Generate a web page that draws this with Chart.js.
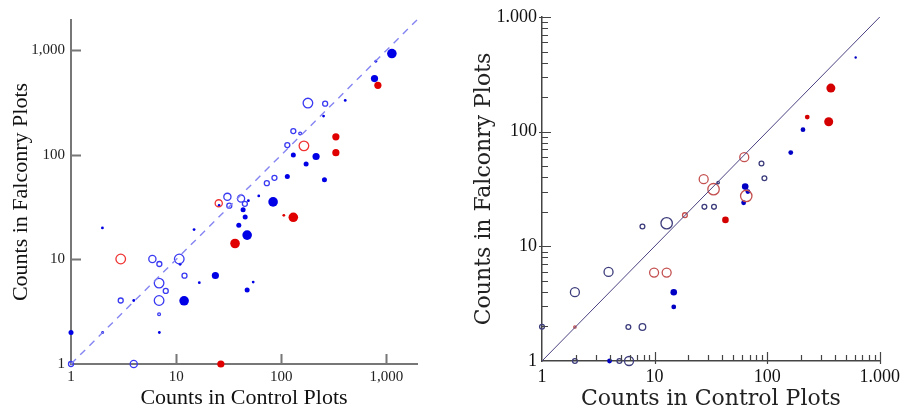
<!DOCTYPE html>
<html>
<head>
<meta charset="utf-8">
<script src="https://cdn.jsdelivr.net/npm/chart.js@4.4.1/dist/chart.umd.min.js"></script>
<style>
  html, body { margin: 0; padding: 0; background: #fff; }
  body { width: 905px; height: 407px; position: relative; overflow: hidden; }
  .panel { position: absolute; top: 0; }
</style>
</head>
<body>
<div class="panel" style="left:0;width:430px;height:407px"><canvas id="left" width="430" height="407"></canvas></div>
<div class="panel" style="left:440px;width:465px;height:407px"><canvas id="right" width="465" height="407"></canvas></div>
<script>
// points are [control count, falconry count, size class]
const leftBlueFilled = [
  [1125, 931, 4], [792, 786, 1], [769, 537, 3], [405, 332, 1], [252, 235, 1],
  [130, 100, 2], [214, 96.5, 3], [172, 82, 2], [114, 62, 2], [257, 57.7, 2],
  [83.5, 35.5, 4], [61, 40.5, 1], [25.6, 32.8, 1], [48.6, 36.5, 1], [43.3, 29.8, 2],
  [45.3, 25.5, 2], [39.4, 21.2, 2], [47.3, 17.1, 4], [23.6, 7.02, 3], [54, 6.07, 1],
  [47.3, 5.09, 2], [11.9, 4.02, 4], [1.99, 20, 1], [14.8, 19.3, 1], [16.6, 6.0, 1],
  [3.95, 4.05, 1], [6.92, 2.0, 1], [2, 2, 1], [1, 2, 2], [10.9, 9.0, 1]
];
const leftBlueOpen = [
  [179, 313, 4], [261, 309, 2], [130, 169, 2], [151, 160, 1], [114, 124, 2],
  [72.8, 53.6, 2], [86, 60.3, 2], [30.7, 39.7, 3], [41.4, 38.2, 3], [32, 32.7, 2],
  [45, 34, 2], [5.94, 10.1, 3], [6.92, 9.04, 2], [10.7, 10.1, 4], [12, 7.0, 2],
  [6.88, 5.94, 4], [7.96, 5.0, 2], [6.88, 4.05, 4], [2.97, 4.05, 2], [6.88, 2.99, 1],
  [1, 1, 2], [3.95, 1, 3]
];
const leftRedFilled = [
  [828, 463, 3], [330, 149, 3], [330, 105, 3], [130, 25.3, 4], [36.3, 14.2, 4],
  [26.6, 1, 3], [105.6, 26.4, 1]
];
const leftRedOpen = [[164, 122, 4], [25.4, 34.4, 3], [2.97, 10.1, 4]];

const rightBlueFilled = [
  [611, 443, 1], [208, 104, 2], [162, 65.7, 2], [63.8, 33.2, 3], [67.4, 30, 2],
  [61.8, 24, 2], [14.8, 3.98, 3], [14.8, 2.96, 2], [3.98, 1, 2]
];
const rightNavyOpen = [
  [89, 52.7, 2], [94.5, 39.3, 2], [36.7, 36, 1], [27.7, 22.1, 2], [33.7, 22.1, 2],
  [12.8, 15.9, 5], [7.8, 14.9, 2], [3.9, 5.98, 4], [1.96, 3.98, 4], [1, 1.99, 2],
  [5.85, 1.98, 2], [7.8, 1.98, 3], [1.96, 1, 2], [4.87, 1, 2], [5.93, 1, 4]
];
const rightRedFilled = [[368, 240, 4], [352, 122, 4], [227, 134, 2], [42.6, 17, 3]];
const rightRedOpen = [
  [62.6, 59.9, 4], [27.3, 38.5, 4], [33.4, 31.5, 5], [65.2, 27.5, 5], [18.6, 18.7, 2],
  [9.9, 5.9, 4], [12.8, 5.9, 4], [1.96, 1.98, 1]
];

const majorTicks = [1, 10, 100, 1000];
const minorTicks = [2, 3, 4, 5, 6, 7, 8, 9, 20, 30, 40, 50, 60, 70, 80, 90, 200, 300, 400, 500, 600, 700, 800, 900];
const leftDiagonal = [1, 1950];
const rightDiagonal = [1, 1000];

const xTitle = 'Counts in Control Plots';
const yTitle = 'Counts in Falconry Plots';

const toPts = arr => arr.map(p => ({ x: p[0], y: p[1], s: p[2] }));
const diag = arr => arr.map(v => ({ x: v, y: v }));

function scatterSet(arr, radii, fill, stroke, open) {
  return {
    type: 'scatter',
    data: toPts(arr),
    pointRadius: c => radii[c.raw.s],
    pointHoverRadius: c => radii[c.raw.s],
    backgroundColor: open ? 'rgba(0,0,0,0)' : fill,
    borderColor: stroke,
    borderWidth: open ? 1.3 : 0,
    clip: false
  };
}

// tick marks drawn on the inner side of the axes
const tickMarks = {
  id: 'tickMarks',
  afterDatasetsDraw(chart, args, o) {
    const { ctx, chartArea: a, scales: { x, y } } = chart;
    ctx.save();
    ctx.strokeStyle = o.color;
    ctx.lineWidth = o.width;
    ctx.beginPath();
    const mark = (v, inLen, outLen) => {
      if (v > 1 && v <= x.max) {
        const px = Math.round(x.getPixelForValue(v)) + 0.5;
        ctx.moveTo(px, a.bottom + outLen); ctx.lineTo(px, a.bottom - inLen);
      }
      if (v > 1 && v <= y.max) {
        const py = Math.round(y.getPixelForValue(v)) + 0.5;
        ctx.moveTo(a.left - outLen, py); ctx.lineTo(a.left + inLen, py);
      }
    };
    o.major.forEach(v => mark(v, o.majorLen, o.majorOut));
    o.minor.forEach(v => mark(v, o.minorLen, 0));
    ctx.stroke();
    ctx.restore();
  }
};

function logAxis(max, fmt, font, color, title, box, border) {
  return {
    type: 'logarithmic',
    min: 1,
    max: max,
    afterBuildTicks: s => { s.ticks = majorTicks.filter(v => v <= max).map(v => ({ value: v })); },
    afterFit: s => { if (box.w) s.width = box.w; if (box.h) s.height = box.h; },
    grid: { display: false, drawTicks: false },
    border: { display: true, color: border.color, width: border.width },
    ticks: {
      padding: box.pad,
      color: color,
      font: font,
      maxRotation: 0,
      autoSkip: false,
      callback: v => fmt(v)
    },
    title: { display: true, text: title.text, color: title.color, font: title.font, padding: title.padding }
  };
}

const leftR = [0, 1.4, 2.5, 3.6, 4.8];
const leftBlue = '#0000e6', leftBlueRing = '#3a3af2', leftRed = '#e00000', leftRedRing = '#f03434';
const leftTickFont = { family: 'Liberation Serif', size: 15 };
const leftTitleFont = { family: 'Liberation Serif', size: 22, lineHeight: 0.8 };
const commaFmt = v => v.toLocaleString('en-US');

new Chart(document.getElementById('left'), {
  data: {
    datasets: [
      { type: 'line', data: diag(leftDiagonal), borderColor: '#8585f2', borderWidth: 1.4, borderDash: [7, 6], pointRadius: 0, fill: false, clip: false },
      scatterSet(leftBlueOpen, leftR, leftBlue, leftBlueRing, true),
      scatterSet(leftRedOpen, leftR, leftRed, leftRedRing, true),
      scatterSet(leftBlueFilled, leftR, leftBlue, leftBlue, false),
      scatterSet(leftRedFilled, leftR, leftRed, leftRed, false)
    ]
  },
  options: {
    responsive: false,
    devicePixelRatio: 1,
    animation: false,
    events: [],
    layout: { padding: { top: 20, right: 13, left: 0, bottom: 0 } },
    plugins: {
      legend: { display: false },
      tooltip: { enabled: false },
      tickMarks: { color: '#777', width: 2, major: majorTicks, minor: [], majorLen: 10, majorOut: 0, minorLen: 0 }
    },
    scales: {
      x: logAxis(1950, commaFmt, leftTickFont, '#222',
        { text: xTitle, color: '#111', font: leftTitleFont, padding: { top: 0, bottom: 0 } },
        { h: 43, pad: 4 }, { color: '#777', width: 2 }),
      y: logAxis(1950, commaFmt, leftTickFont, '#222',
        { text: yTitle, color: '#111', font: leftTitleFont, padding: { top: 12, bottom: 0 } },
        { w: 71, pad: 6 }, { color: '#777', width: 2 })
    }
  },
  plugins: [tickMarks]
});

const rightR = [0, 1.2, 2.4, 3.3, 4.5, 5.7];
const rightBlue = '#0000c4', rightNavy = '#3c3c7c', rightRed = '#d40000', rightRedRing = '#c45050';
const rightTickFont = { family: 'Liberation Serif', size: 18 };
const rightTitleFont = { family: 'DejaVu Serif', size: 22, lineHeight: 1 };
const dotFmt = v => v.toLocaleString('de-DE');

new Chart(document.getElementById('right'), {
  data: {
    datasets: [
      { type: 'line', data: diag(rightDiagonal), borderColor: '#4a4280', borderWidth: 1, pointRadius: 0, fill: false, clip: false },
      scatterSet(rightNavyOpen, rightR, rightNavy, rightNavy, true),
      scatterSet(rightRedOpen, rightR, rightRed, rightRedRing, true),
      scatterSet(rightBlueFilled, rightR, rightBlue, rightBlue, false),
      scatterSet(rightRedFilled, rightR, rightRed, rightRed, false)
    ]
  },
  options: {
    responsive: false,
    devicePixelRatio: 1,
    animation: false,
    events: [],
    layout: { padding: { top: 17, right: 22, left: 0, bottom: 0 } },
    plugins: {
      legend: { display: false },
      tooltip: { enabled: false },
      tickMarks: { color: '#444', width: 1.2, major: majorTicks, minor: minorTicks, majorLen: 9, majorOut: 3, minorLen: 6 }
    },
    scales: {
      x: logAxis(1000, dotFmt, rightTickFont, '#111',
        { text: xTitle, color: '#222', font: rightTitleFont, padding: { top: 0, bottom: -3 } },
        { h: 46, pad: 5 }, { color: '#444', width: 1.5 }),
      y: logAxis(1000, dotFmt, rightTickFont, '#111',
        { text: yTitle, color: '#222', font: rightTitleFont, padding: { top: 33, bottom: 0 } },
        { w: 102, pad: 5 }, { color: '#444', width: 1.5 })
    }
  },
  plugins: [tickMarks]
});
</script>
</body>
</html>
